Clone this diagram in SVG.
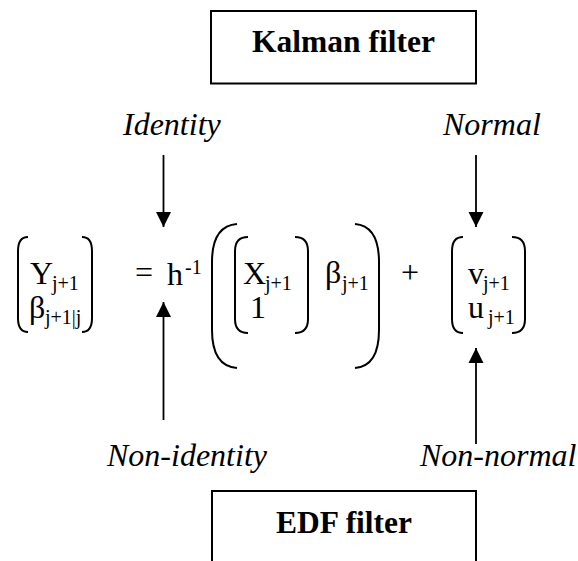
<svg xmlns="http://www.w3.org/2000/svg" width="578" height="561" viewBox="0 0 578 561">
  <style>
    .box { fill: none; stroke: #000; stroke-width: 2; }
    .title { font-family: "Liberation Serif", "Times New Roman", serif; font-weight: bold; font-size: 31.5px; fill: #000; text-anchor: middle; }
    .label { font-family: "Liberation Serif", "Times New Roman", serif; font-style: italic; font-size: 32px; fill: #000; }
    .m { font-family: "Liberation Serif", "Times New Roman", serif; font-size: 32px; fill: #000; }
    .s { font-family: "Liberation Serif", "Times New Roman", serif; font-size: 20px; fill: #000; }
    .br { fill: none; stroke: #000; stroke-width: 2; }
    .arrow { fill: none; stroke: #000; stroke-width: 1.8; marker-end: url(#ah); }
  </style>
  <defs>
    <marker id="ah" markerUnits="userSpaceOnUse" markerWidth="16" markerHeight="16" viewBox="0 0 16 16" refX="15" refY="8" orient="auto">
      <path d="M0,0.5 L15,8 L0,15.5 Z" fill="#000"/>
    </marker>
  </defs>
  <rect width="578" height="561" fill="#fff"/>

  <!-- top filter box -->
  <g id="kalman">
    <rect class="box" x="211" y="11" width="265" height="72.5"/>
    <text class="title" x="343.5" y="52">Kalman filter</text>
  </g>

  <!-- bottom filter box (open at the lower edge) -->
  <g id="edf">
    <path class="box" d="M212,575 L212,491 L476,491 L476,575"/>
    <text class="title" x="344" y="533">EDF filter</text>
  </g>

  <!-- condition labels -->
  <g id="identity"><text class="label" x="123" y="135">Identity</text></g>
  <g id="normal"><text class="label" x="443" y="135">Normal</text></g>
  <g id="non-identity"><text class="label" x="107" y="466">Non-identity</text></g>
  <g id="non-normal"><text class="label" x="420" y="466">Non-normal</text></g>

  <!-- state-space equation -->
  <g id="equation">
    <!-- left-hand vector -->
    <path class="br" d="M28,237 Q18,237 18,251 L18,318 Q18,332 28,332"/>
    <path class="br" d="M82,237 Q92,237 92,251 L92,318 Q92,332 82,332"/>
    <text class="m" x="30" y="284">Y</text>
    <text class="s" x="52" y="290">j+1</text>
    <text class="m" x="29" y="318">β</text>
    <text class="s" x="45" y="324">j+1|j</text>

    <text class="m" x="135" y="283">=</text>
    <text class="m" x="167" y="285">h</text>
    <text class="s" x="185" y="274">-1</text>

    <!-- outer parenthesis -->
    <path class="br" d="M237,224 Q212,226 212,262 L212,330 Q212,366 237,368"/>
    <path class="br" d="M355,224 Q379,226 379,262 L379,330 Q379,366 355,368"/>

    <!-- design vector -->
    <path class="br" d="M248,237 Q235,237 235,251 L235,319 Q235,333 248,333"/>
    <path class="br" d="M295,237 Q308,237 308,251 L308,319 Q308,333 295,333"/>
    <text class="m" x="243" y="284">X</text>
    <text class="s" x="265" y="290">j+1</text>
    <text class="m" x="250" y="318">1</text>

    <text class="m" x="325" y="283">β</text>
    <text class="s" x="342" y="290">j+1</text>

    <text class="m" x="401" y="283">+</text>

    <!-- noise vector -->
    <path class="br" d="M463,237 Q452,237 452,251 L452,319 Q452,333 463,333"/>
    <path class="br" d="M512,237 Q525,237 525,251 L525,319 Q525,333 512,333"/>
    <text class="m" x="468" y="284">v</text>
    <text class="s" x="483" y="290">j+1</text>
    <text class="m" x="468" y="318">u</text>
    <text class="s" x="488" y="324">j+1</text>
  </g>

  <!-- connectors -->
  <g id="connectors">
    <line class="arrow" x1="163.5" y1="155" x2="163.5" y2="227"/>
    <line class="arrow" x1="476" y1="155" x2="476" y2="227"/>
    <line class="arrow" x1="163.5" y1="420" x2="163.5" y2="302"/>
    <line class="arrow" x1="476" y1="444" x2="476" y2="348"/>
  </g>
</svg>
